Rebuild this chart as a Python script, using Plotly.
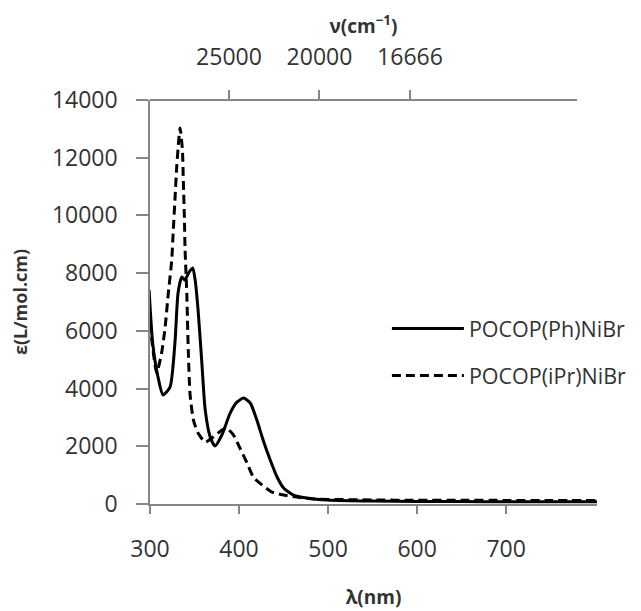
import plotly.graph_objects as go

# absorption spectra
wl_ph = [299, 303, 309, 314.6, 322.5, 328, 331.5, 335.7, 339, 344, 348, 350.7, 354, 358,
         362, 367.6, 373, 380.7, 390, 397.6, 405, 412.6, 420, 427, 435, 442.7, 450, 461,
         476, 499, 550, 600, 650, 700, 750, 802]
eps_ph = [7415, 5580, 4400, 3780, 4050, 5580, 7310, 7870, 7760, 8040, 8180, 7760, 6720, 4990,
          3260, 2320, 2010, 2390, 3150, 3530, 3670, 3500, 2910, 2220, 1525, 935, 555, 310,
          210, 140, 100, 90, 85, 80, 80, 80]

wl_ipr = [300, 303.5, 307.5, 313, 317, 320.6, 324.4, 326, 328, 330, 332, 333.8, 336.4, 337.5,
          338.6, 339.4, 341.3, 343, 345, 348.8, 354, 362, 371, 380.7, 386, 393.8, 401, 409,
          416, 425.8, 437, 450, 465, 484, 550, 600, 650, 700, 750, 802]
eps_ipr = [6270, 5300, 4540, 5230, 6130, 7310, 8450, 9390, 10530, 11680, 12510, 13030, 12270,
           11120, 9950, 8800, 7310, 5300, 3800, 2910, 2460, 2150, 2320, 2560, 2630, 2390, 1940,
           1420, 935, 660, 415, 310, 240, 175, 140, 130, 130, 125, 125, 125]

names = ["POCOP(Ph)NiBr", "POCOP(iPr)NiBr"]

x_ticks = [300, 400, 500, 600, 700]
top_ticks = [400, 500, 600]
top_labels = ["25000", "20000", "16666"]

FONT = "Open Sans"
AX = "#868686"

fig = go.Figure()

fig.add_trace(go.Scatter(
    x=wl_ph, y=eps_ph, name=names[0], mode="lines", legendgroup="a",
    line=dict(color="black", width=3, shape="spline", smoothing=0.6)
))
fig.add_trace(go.Scatter(
    x=wl_ipr, y=eps_ipr, name=names[1], mode="lines", legendgroup="b",
    line=dict(color="black", width=3, dash="9px,5px", shape="spline", smoothing=0.6)
))
# empty trace so the wavenumber axis on top gets drawn
fig.add_trace(go.Scatter(
    x=top_ticks, y=[None] * len(top_ticks), xaxis="x2", mode="lines",
    showlegend=False, hoverinfo="skip"
))

fig.update_layout(
    # a bit wider than the window so the legend does not push the margin;
    # page body adds 8px on the left/top
    width=660, height=611,
    margin=dict(l=142, r=71, t=92, b=115),
    paper_bgcolor="white", plot_bgcolor="rgba(0,0,0,0)",
    font=dict(family=FONT, size=23, color="#333"),
    showlegend=True,
    legend=dict(x=0.530, y=0.485, xanchor="left", yanchor="top",
                itemwidth=72, tracegroupgap=16,
                bgcolor="rgba(0,0,0,0)", font=dict(size=21.5)),
    xaxis=dict(
        range=[300, 802], tickvals=x_ticks, showgrid=False, zeroline=False,
        showline=True, linecolor=AX, linewidth=1.5, automargin=False,
        ticks="outside", ticklen=8, tickcolor=AX, tickwidth=1.5, ticklabelstandoff=16,
        title=dict(text="<b>λ(nm)</b>", standoff=27, font=dict(size=19)),
    ),
    xaxis2=dict(
        range=[312.7, 784.5], domain=[0, 0.955], anchor="free", position=1,
        side="top", tickvals=top_ticks, ticktext=top_labels,
        showgrid=False, zeroline=False, automargin=False,
        showline=True, linecolor=AX, linewidth=1.5,
        ticks="outside", ticklen=9, tickcolor=AX, tickwidth=1.5, ticklabelstandoff=16,
        title=dict(text="<b>ν(cm<sup>−1</sup>)</b>", standoff=0, font=dict(size=19)),
    ),
    yaxis=dict(
        range=[0, 14000], dtick=2000, tickformat="d", showgrid=False, zeroline=False,
        showline=True, linecolor=AX, linewidth=1.5, automargin=False,
        ticks="outside", ticklen=12, tickcolor=AX, tickwidth=1.5, ticklabelstandoff=14,
        title=dict(text="<b>ε(L/mol.cm)</b>", standoff=20, font=dict(size=18)),
    ),
)

fig.write_html("out.html")
